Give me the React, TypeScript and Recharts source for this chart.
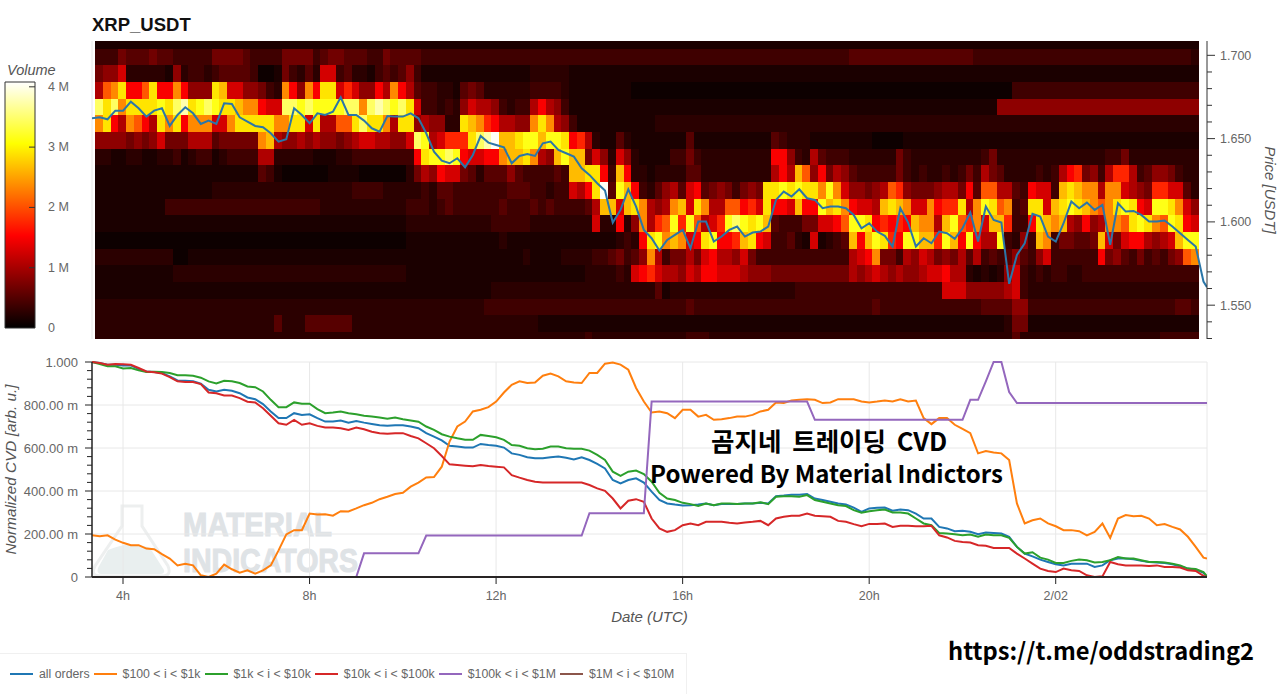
import {
  Bar,
  BarChart,
  CartesianGrid,
  ComposedChart,
  Legend,
  Line,
  LineChart,
  ReferenceLine,
  Scatter,
  XAxis,
  YAxis,
} from "recharts";

const SANS = "'Liberation Sans', Arial, sans-serif";
const KR = "'Noto Sans CJK KR', sans-serif";

// hours since 00:00 on 2/01
const START_HOUR = 3.335;
const END_HOUR = 27.244;
const HEAT_START_HOUR = 3.4;
const VOLUME_MAX = 4.08;
const PRICE_MIN = 1.5297;
const PRICE_MAX = 1.7086;

// one char per 10 min column, top price row first; chars index levelVolumes
const levelVolumes = [0.08, 0.16, 0.26, 0.38, 0.52, 0.68, 0.85, 1.05, 1.27, 1.5, 1.75, 2.05, 2.35, 2.65, 2.9, 3.15, 3.45, 3.75, 4.05];
const rowPrices = [1.709, 1.699, 1.689, 1.679, 1.669, 1.659, 1.649, 1.639, 1.629, 1.619, 1.609, 1.599, 1.589, 1.579, 1.569, 1.559, 1.549, 1.539, 1.529];
const heatRows = [
  "1111111111 1111111111 1111111111 1111111111 1111111111 1111111111 1111111111 1111111111 1111111111 1111111111 1111111111 1111111111 1111111111 1111111111 11",
  "3335444544 3333355554 3333555534 5544433544 4433333333 3333333333 3333333333 3333333333 3333333333 3333333444 4444444444 4443333333 3333333333 3333333333 32",
  "5668222221 6233234444 3001532428 8342213434 6311111111 1111112222 2111111111 1111111111 1111111111 1111111111 1111111111 1111111111 1111111111 1111111111 11",
  "7bce99be99 c9666ed886 6532c96c9e e8a86697c9 7433221454 2222223333 2111111110 0000000000 0000000000 0000000000 0000000000 0000000033 3333333333 3333333333 33",
  "gegceeeefe ghefgfeedc c988ggfgff ffggcghgfg e833232687 7632337976 3111111111 1111111111 1111111111 1111111111 1111111111 1111116666 6666666666 6666666666 66",
  "ce97cb97ec e9ccc88cee eeeccee8e7 7bbegeec7e e676622edc a97766cec7 6311111111 1122222222 2222222222 2222222222 2222222222 2222222222 2222222222 2222222222 22",
  "6666565685 5577745555 5cd7667676 6567887766 8gf78aaaeg hiddeffdff e9a7211421 1111114111 1111111432 2211111111 0000111111 1111111111 1111111111 1111111111 11",
  "2211221122 3123312333 3772222211 1223333333 39effgf988 99cddec76d fdd5862862 1111335322 2222222996 3274333222 2225322222 2222352222 2222222222 3352222222 22",
  "1111111111 1111111111 1431000000 1111000000 2576988542 4446433334 3ddee93d92 2122224422 2222222797 db69576433 3335323223 2353754222 232379a563 7aa7346653 22",
  "1111111111 1111122222 2222222222 2223333222 2232443333 3334443323 3879ei4fd9 3246748945 653565eefe feecfc8665 67ba655567 7594bb7743 9883dedcc7 cc8765aa88 42",
  "1111111113 3333333333 3333333332 2222222222 3332343333 3343334343 33347dd8de c767cd8ec7 7bb9a8e998 d99fdec988 7dedc88c9a ae7cfebc34 ee8defedcb cefe98ffec 86",
  "1111111111 1111111111 1111111111 1111111111 2222222222 2333332222 2222822926 c7abfafb78 afgfefd433 355889bffe 9a9a9dcc7d fbac8dda33 9edcd76967 ccbefecbfe 98",
  "0000000000 0000000000 0000000000 0000000000 1111111111 1121111111 1111111232 9efcdc89ef 99ade98334 2181234d9d fea9ffddaf d9f977f326 3dc355445d 858997678d ff",
  "2222222222 0011111111 1111111111 1111111111 1111111111 1111121111 2222334534 6c73557589 7768533333 3333333789 c553768756 5747343464 3683333339 5643534356 bc",
  "1111111111 2222222222 2222222222 2222222222 1111111111 1111111111 1112222328 9a87768799 8887666555 5555555767 8767667889 7721212683 2323322333 3333333333 33",
  "1111111111 1111111111 1111111111 1111111111 1111111111 1222222222 2222222222 2241222222 2222222222 3333333333 3333333338 8866666783 2222222222 2222222222 22",
  "2222222222 2222222222 2222222222 2222222222 2222222222 3333333333 3333333333 3333334333 3333333333 3333333333 4333333333 3333444466 3333333333 3333333334 43",
  "2222222222 2222222222 2224222444 4442222222 2222222222 2222222111 1111111111 1111111111 1111111111 1111111111 1111111111 1111111255 1111111111 1111111111 11",
  "2222222222 2222222222 2222222222 2222222222 2222222222 2222222222 2223222222 2222223332 2222222222 2222222222 2222222222 2222222242 2222222222 2222222333 33",
];

const priceValues = [
  1.6622, 1.6628, 1.6616, 1.6668, 1.6668, 1.6722, 1.6682, 1.6632, 1.6668, 1.6682,
  1.6576, 1.6642, 1.6688, 1.6652, 1.6588, 1.6608, 1.6588, 1.6712, 1.6708, 1.6628,
  1.6602, 1.6576, 1.6568, 1.6532, 1.6482, 1.6496, 1.6682, 1.6642, 1.6592, 1.6652,
  1.6642, 1.6662, 1.6748, 1.6642, 1.6642, 1.6608, 1.6562, 1.6542, 1.6636, 1.6632,
  1.6632, 1.6652, 1.6622, 1.6532, 1.6422, 1.6368, 1.6352, 1.6382, 1.6328, 1.6402,
  1.6516, 1.6476, 1.6462, 1.6448, 1.6352, 1.6396, 1.6408, 1.6396, 1.6472, 1.6482,
  1.6432, 1.6412, 1.6392, 1.6322, 1.6282, 1.6232, 1.6188, 1.5996, 1.6072, 1.6196,
  1.6092, 1.5952, 1.5902, 1.5828, 1.5892, 1.5922, 1.5952, 1.5842, 1.6002, 1.6002,
  1.5882, 1.5912, 1.5952, 1.5972, 1.5912, 1.5936, 1.5942, 1.5972, 1.6132, 1.6182,
  1.6152, 1.6196, 1.6142, 1.6132, 1.6082, 1.6092, 1.6092, 1.6082, 1.6042, 1.5962,
  1.5992, 1.5942, 1.5916, 1.5852, 1.6082, 1.5996, 1.5852, 1.5902, 1.5872, 1.5942,
  1.5932, 1.5898, 1.5962, 1.6056, 1.5882, 1.6092, 1.6012, 1.5996, 1.5628, 1.5802,
  1.5872, 1.6048, 1.6032, 1.5912, 1.5882, 1.5992, 1.6122, 1.6082, 1.6116, 1.6072,
  1.6102, 1.5862, 1.6112, 1.6062, 1.6066, 1.6042, 1.6002, 1.6002, 1.6008, 1.5972,
  1.5932, 1.5892, 1.5852, 1.5642, 1.5608,
];

// normalized CVD in thousandths, every 10 min
const allOrders = [
  1000, 995, 987, 987, 984, 984, 967, 956, 953, 949,
  933, 914, 913, 910, 899, 871, 863, 871, 866, 855,
  835, 827, 804, 770, 739, 739, 762, 754, 757, 739,
  723, 723, 728, 718, 725, 718, 712, 706, 703, 706,
  706, 700, 692, 669, 653, 635, 610, 607, 602, 602,
  619, 614, 610, 602, 575, 568, 557, 552, 552, 557,
  560, 555, 547, 557, 544, 526, 505, 451, 435, 451,
  459, 439, 397, 358, 342, 337, 333, 334, 337, 342,
  334, 339, 339, 339, 342, 342, 345, 342, 376, 379,
  383, 383, 386, 365, 358, 350, 342, 337, 323, 303,
  319, 322, 323, 308, 314, 311, 295, 272, 272, 233,
  226, 213, 215, 210, 199, 207, 205, 202, 187, 140,
  109, 96, 81, 70, 59, 54, 62, 62, 62, 47,
  54, 78, 86, 86, 82, 75, 70, 67, 65, 59,
  50, 39, 34, 19, 0,
];
const small = [
  194, 190, 194, 174, 159, 148, 148, 132, 129, 106,
  86, 54, 62, 54, 8, 0, 16, 58, 36, 20,
  31, 16, 31, 54, 124, 198, 218, 218, 295, 291,
  292, 285, 306, 305, 319, 334, 345, 362, 373, 386,
  392, 420, 439, 463, 465, 513, 630, 700, 723, 770,
  778, 790, 816, 858, 894, 910, 902, 905, 936, 946,
  933, 910, 905, 902, 949, 949, 992, 998, 988, 964,
  879, 816, 765, 770, 762, 739, 778, 778, 746, 754,
  731, 734, 739, 746, 746, 754, 770, 778, 812, 809,
  821, 824, 827, 824, 809, 812, 827, 827, 827, 816,
  812, 816, 821, 816, 827, 816, 821, 739, 711, 739,
  739, 708, 689, 669, 575, 586, 579, 575, 544, 342,
  249, 264, 272, 249, 236, 218, 218, 213, 194, 210,
  249, 182, 272, 288, 283, 285, 272, 241, 246, 233,
  221, 187, 140, 90, 86,
];
const medium = [
  1000, 991, 980, 980, 970, 972, 961, 953, 955, 953,
  949, 938, 938, 936, 927, 910, 900, 913, 910, 902,
  886, 883, 863, 824, 790, 790, 812, 806, 806, 781,
  762, 765, 770, 762, 757, 750, 746, 742, 736, 742,
  734, 728, 722, 700, 684, 664, 653, 645, 638, 638,
  661, 656, 650, 638, 614, 610, 599, 594, 597, 607,
  607, 599, 596, 596, 588, 568, 544, 490, 470, 490,
  495, 479, 443, 392, 365, 358, 345, 339, 330, 342,
  334, 342, 342, 339, 342, 342, 348, 339, 373, 376,
  376, 373, 381, 358, 350, 342, 334, 330, 311, 299,
  306, 311, 314, 300, 300, 295, 272, 249, 241, 205,
  202, 199, 194, 198, 187, 198, 194, 194, 182, 140,
  109, 115, 90, 81, 65, 65, 75, 81, 78, 68,
  70, 78, 93, 86, 86, 78, 70, 70, 68, 62,
  54, 39, 37, 23, 3,
];
const large = [
  1000, 995, 987, 991, 989, 987, 972, 956, 952, 946,
  930, 910, 907, 907, 897, 858, 855, 844, 844, 832,
  815, 812, 785, 750, 715, 708, 731, 708, 715, 703,
  695, 695, 692, 684, 695, 687, 676, 669, 666, 669,
  669, 656, 645, 622, 599, 563, 524, 521, 518, 515,
  521, 516, 513, 510, 474, 462, 451, 443, 439, 440,
  440, 439, 439, 439, 428, 412, 401, 365, 319, 355,
  362, 350, 272, 226, 210, 218, 241, 249, 241, 257,
  257, 257, 252, 249, 254, 257, 261, 241, 272, 280,
  285, 285, 295, 285, 283, 280, 261, 257, 246, 236,
  247, 247, 249, 233, 238, 238, 236, 236, 238, 194,
  184, 168, 163, 160, 148, 145, 135, 135, 135, 109,
  86, 62, 39, 28, 23, 39, 31, 28, 8, 0,
  3, 70, 59, 54, 54, 54, 51, 54, 47, 47,
  44, 31, 28, 5, 0,
];
const whale = [
  0, 0, 0, 0, 0, 0, 0, 0, 0, 0,
  0, 0, 0, 0, 0, 0, 0, 0, 0, 0,
  0, 0, 0, 0, 0, 0, 0, 0, 0, 0,
  0, 0, 0, 0, 0, 110, 110, 110, 110, 110,
  110, 110, 110, 193, 193, 193, 193, 193, 193, 193,
  193, 193, 193, 193, 193, 193, 193, 193, 193, 193,
  193, 193, 193, 193, 297, 297, 297, 297, 297, 297,
  297, 297, 816, 816, 816, 816, 816, 816, 816, 816,
  816, 816, 816, 816, 816, 816, 816, 816, 816, 816,
  816, 816, 816, 731, 731, 731, 731, 731, 731, 731,
  731, 731, 731, 731, 731, 731, 731, 731, 731, 731,
  731, 731, 731, 824, 824, 910, 1000, 1000, 860, 809,
  809, 809, 809, 809, 809, 809, 809, 809, 809, 809,
  809, 809, 809, 809, 809, 809, 809, 809, 809, 809,
  809, 809, 809, 809, 809,
];

const hourTicks = [4, 8, 12, 16, 20, 24];
const priceTicks = [1.53, 1.54, 1.55, 1.56, 1.57, 1.58, 1.59, 1.6, 1.61, 1.62, 1.63, 1.64, 1.65, 1.66, 1.67, 1.68, 1.69, 1.7];
const cvdTicks = [0, 40, 80, 120, 160, 200, 240, 280, 320, 360, 400, 440, 480, 520, 560, 600, 640, 680, 720, 760, 800, 840, 880, 920, 960, 1000];
const volumeTicks = [0, 1, 2, 3, 4];

const timeAt = (i: number) => Math.min(START_HOUR + i / 6, END_HOUR);

function hotColor(v: number) {
  const f = v / VOLUME_MAX;
  const ch = (x: number) => Math.round(Math.max(0, Math.min(1, x)) * 255);
  return `rgb(${ch(f / 0.375)},${ch((f - 0.375) / 0.375)},${ch((f - 0.75) / 0.25)})`;
}

const heatCells = heatRows.flatMap((row, r) =>
  row
    .replace(/ /g, "")
    .split("")
    .map((c, i) => ({
      time: HEAT_START_HOUR + (i + 0.5) / 6,
      price: rowPrices[r],
      volume: levelVolumes[parseInt(c, 36)],
    }))
);
const priceData = priceValues.map((price, i) => ({ time: timeAt(i), price }));
const cvdData = allOrders.map((v, i) => ({
  time: timeAt(i),
  all: v,
  small: small[i],
  medium: medium[i],
  large: large[i],
  whale: whale[i],
  mega: 0,
}));

const PLOT_TOP = 41;
const PLOT_BOTTOM = 339;
const CELL_W = 7.78;
const CELL_H = 16.67;

function HeatCell(props: any) {
  const { cx, cy, payload } = props;
  const y0 = Math.max(PLOT_TOP, cy - CELL_H / 2);
  const y1 = Math.min(PLOT_BOTTOM, cy + CELL_H / 2 + 0.5);
  return <rect x={cx - CELL_W / 2} y={y0} width={CELL_W + 0.5} height={y1 - y0} fill={hotColor(payload.volume)} shapeRendering="crispEdges" />;
}

function PriceTick({ x, y, payload }: any) {
  const v = payload.value;
  const major = Math.round(v * 100) % 5 === 0;
  return (
    <g>
      <line x1={x} x2={x + (major ? 8 : 5)} y1={y} y2={y} stroke="#333" />
      {major && (
        <text x={x + 13} y={y + 4.5} fontSize={12.5} fontFamily={SANS} fill="#666">
          {v.toFixed(3)}
        </text>
      )}
    </g>
  );
}

function CvdTick({ x, y, payload }: any) {
  const v = payload.value;
  const major = v % 200 === 0;
  const label = v === 1000 ? "1.000" : v === 0 ? "0" : `${v.toFixed(2)} m`;
  return (
    <g>
      <line x1={x - (major ? 7 : 5)} x2={x} y1={y} y2={y} stroke="#222" />
      {major && (
        <text x={x - 14} y={y + 4.5} textAnchor="end" fontSize={13} fontFamily={SANS} fill="#666">
          {label}
        </text>
      )}
    </g>
  );
}

function VolumeTick({ x, y, payload }: any) {
  const v = payload.value;
  return (
    <g>
      {v > 0 && <line x1={x - 6} x2={x} y1={y} y2={y} stroke="#333" />}
      <text x={x + 13} y={y + 4} fontSize={12.5} fontFamily={SANS} fill="#666">
        {v === 0 ? "0" : `${v} M`}
      </text>
    </g>
  );
}

function LegendRow({ payload }: any) {
  return (
    <div
      style={{
        display: "flex",
        alignItems: "center",
        height: 41,
        width: 687,
        paddingLeft: 10,
        boxSizing: "border-box",
        borderTop: "1px solid #f0f0f0",
        borderRight: "1px solid #f0f0f0",
        fontFamily: SANS,
        fontSize: 12.3,
        color: "#666",
        whiteSpace: "nowrap",
      }}
    >
      {(payload || []).map((item: any) => (
        <span key={item.value} style={{ display: "flex", alignItems: "center", marginRight: 4 }}>
          <span style={{ width: 23, height: 2, background: item.color, marginRight: 6 }} />
          {item.value}
        </span>
      ))}
    </div>
  );
}

function Watermark() {
  return (
    <svg width={320} height={90} style={{ position: "absolute", left: 85, top: 495 }} viewBox="85 495 320 90">
      <path d="M122 506 H142 V526 L168 566 Q172 576 162 576 H100 Q90 576 95 566 L122 526 Z" fill="none" stroke="#edefef" strokeWidth={3} />
      <path d="M108 550 Q130 540 150 548 L164 570 Q165 574 160 574 H102 Q96 574 98 568 Z" fill="#e9efef" />
      <text x={183} y={536} fontFamily={SANS} fontWeight={700} fontSize={33} fill="#dfe3e6" stroke="#dfe3e6" textLength={149} lengthAdjust="spacingAndGlyphs">
        MATERIAL
      </text>
      <text x={183} y={572} fontFamily={SANS} fontWeight={700} fontSize={33} fill="#dfe3e6" stroke="#dfe3e6" textLength={175} lengthAdjust="spacingAndGlyphs">
        INDICATORS
      </text>
    </svg>
  );
}

const overlay = (left: number, top: number, size: number, wordSpacing = 0): React.CSSProperties => ({
  position: "absolute",
  left,
  top,
  fontFamily: KR,
  fontWeight: 700,
  fontSize: size,
  lineHeight: 1,
  color: "#000",
  whiteSpace: "nowrap",
  wordSpacing,
});

const topMargin = { top: 41, right: 0, bottom: 6, left: 92 };

export default function App() {
  return (
    <div style={{ position: "absolute", left: 0, top: 0, width: 1280, height: 694, overflow: "hidden", background: "#fff" }}>
      <svg width={0} height={0} style={{ position: "absolute" }}>
        <defs>
          <linearGradient id="hotBar" x1="0" y1="0" x2="0" y2="1">
            <stop offset="0" stopColor="#ffffff" />
            <stop offset="0.25" stopColor="#ffff00" />
            <stop offset="0.625" stopColor="#ff0000" />
            <stop offset="1" stopColor="#000000" />
          </linearGradient>
        </defs>
      </svg>

      <div style={{ position: "absolute", left: 92, top: 14, fontFamily: SANS, fontWeight: 700, fontSize: 18.5, color: "#111" }}>XRP_USDT</div>
      <div style={{ position: "absolute", left: 7, top: 62, fontFamily: SANS, fontStyle: "italic", fontSize: 14.5, color: "#555" }}>Volume</div>

      <div style={{ position: "absolute", left: 0, top: 70 }}>
        <BarChart width={80} height={264} data={[{ name: "Volume", volume: VOLUME_MAX }]} margin={{ top: 12, right: 0, bottom: 6, left: 5 }} barCategoryGap={0}>
          <XAxis dataKey="name" hide />
          <YAxis orientation="right" width={45} domain={[0, VOLUME_MAX]} ticks={volumeTicks} interval={0} tick={VolumeTick} tickLine={false} axisLine={false} tickSize={0} tickMargin={0} />
          <Bar dataKey="volume" fill="url(#hotBar)" stroke="#333" isAnimationActive={false} />
        </BarChart>
      </div>

      {/* cells sit in their own layer: Scatter would otherwise paint over the price line */}
      <div style={{ position: "absolute", left: 0, top: 0, filter: "blur(0.7px)" }}>
        <ComposedChart width={1280} height={345} margin={topMargin}>
          <XAxis dataKey="time" type="number" domain={[START_HOUR, END_HOUR]} hide allowDataOverflow />
          <YAxis dataKey="price" type="number" orientation="right" width={73} domain={[PRICE_MIN, PRICE_MAX]} allowDataOverflow tick={false} tickLine={false} axisLine={false} />
          <Scatter data={heatCells} shape={HeatCell} isAnimationActive={false} />
        </ComposedChart>
      </div>

      <div style={{ position: "absolute", left: 0, top: 0 }}>
        <ComposedChart width={1280} height={345} margin={topMargin}>
          <XAxis dataKey="time" type="number" domain={[START_HOUR, END_HOUR]} hide allowDataOverflow />
          <YAxis
            dataKey="price"
            type="number"
            orientation="right"
            width={73}
            domain={[PRICE_MIN, PRICE_MAX]}
            ticks={priceTicks}
            interval={0}
            allowDataOverflow
            tick={PriceTick}
            tickLine={false}
            tickSize={0}
            tickMargin={0}
            axisLine={{ stroke: "#333" }}
            label={{
              value: "Price [USDT]",
              angle: 90,
              position: "insideRight",
              offset: 10,
              style: { fontFamily: SANS, fontStyle: "italic", fontSize: 15, fill: "#555", textAnchor: "middle" },
            }}
          />
          <ReferenceLine x={START_HOUR} stroke="#e8e8e8" />
          <Line data={priceData} dataKey="price" stroke="#2a76a8" strokeWidth={2} dot={false} isAnimationActive={false} />
        </ComposedChart>
      </div>

      <Watermark />

      <div style={{ position: "absolute", left: 0, top: 345 }}>
        <LineChart width={1280} height={349} data={cvdData} margin={{ top: 17, right: 73, bottom: 77, left: 0 }}>
          <CartesianGrid stroke="#e8e8e8" horizontalValues={[0, 200, 400, 600, 800, 1000]} verticalValues={[4, 8, 12, 16, 20, 24, END_HOUR]} />
          <XAxis
            dataKey="time"
            type="number"
            domain={[START_HOUR, END_HOUR]}
            ticks={hourTicks}
            interval={0}
            allowDataOverflow
            height={40}
            tickFormatter={(h: number) => (h === 24 ? "2/02" : `${h}h`)}
            tick={{ fontSize: 12.5, fontFamily: SANS, fill: "#666" }}
            tickSize={7}
            tickMargin={7}
            tickLine={{ stroke: "#222" }}
            axisLine={{ stroke: "#222", strokeWidth: 1.5 }}
            label={{
              value: "Date (UTC)",
              position: "insideBottom",
              offset: -5,
              style: { fontFamily: SANS, fontStyle: "italic", fontSize: 15, fill: "#555" },
            }}
          />
          <YAxis
            width={92}
            domain={[0, 1000]}
            ticks={cvdTicks}
            interval={0}
            tick={CvdTick}
            tickLine={false}
            tickSize={0}
            tickMargin={0}
            axisLine={{ stroke: "#222", strokeWidth: 1.5 }}
            label={{
              value: "Normalized CVD [arb. u.]",
              angle: -90,
              position: "insideLeft",
              offset: 11,
              style: { fontFamily: SANS, fontStyle: "italic", fontSize: 15.3, fill: "#555", textAnchor: "middle" },
            }}
          />
          <Legend content={LegendRow} itemSorter={null} verticalAlign="middle" layout="horizontal" wrapperStyle={{ left: 0, top: 308, width: 687, height: 41 }} />
          <Line dataKey="all" name="all orders" stroke="#1f77b4" strokeWidth={2} dot={false} isAnimationActive={false} />
          <Line dataKey="small" name="$100 < i < $1k" stroke="#ff7f0e" strokeWidth={2} dot={false} isAnimationActive={false} />
          <Line dataKey="medium" name="$1k < i < $10k" stroke="#2ca02c" strokeWidth={2} dot={false} isAnimationActive={false} />
          <Line dataKey="large" name="$10k < i < $100k" stroke="#d62728" strokeWidth={2} dot={false} isAnimationActive={false} />
          <Line dataKey="whale" name="$100k < i < $1M" stroke="#9467bd" strokeWidth={2} dot={false} isAnimationActive={false} />
          <Line dataKey="mega" name="$1M < i < $10M" stroke="#8c564b" strokeWidth={2} dot={false} isAnimationActive={false} />
          <ReferenceLine y={0} stroke="#222" strokeWidth={1.5} />
        </LineChart>
      </div>

      <div style={overlay(711, 427, 25.5, 5)}>곰지네 트레이딩 CVD</div>
      <div style={overlay(650, 461, 24)}>Powered By Material Indictors</div>
      <div style={overlay(948, 639, 23.7)}>https://t.me/oddstrading2</div>
    </div>
  );
}
